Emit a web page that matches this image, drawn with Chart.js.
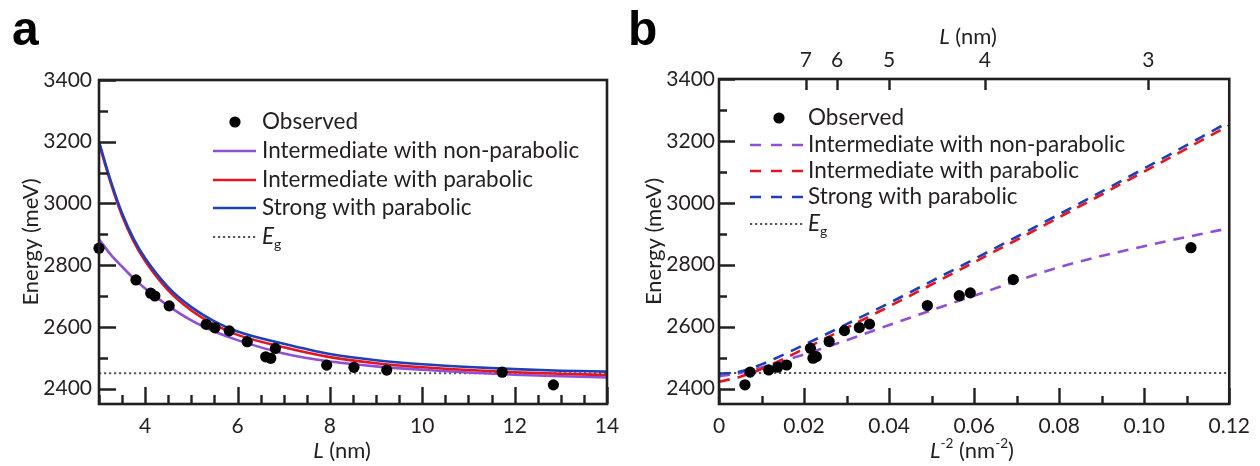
<!DOCTYPE html>
<html><head><meta charset="utf-8">
<script src="https://cdn.jsdelivr.net/npm/chart.js@4.4.0/dist/chart.umd.min.js"></script>
<style>
html,body{margin:0;padding:0;background:#fff;}
#wrap{position:relative;width:1260px;height:466px;overflow:hidden;}
canvas{position:absolute;top:0;}
</style></head><body>
<div id="wrap">
<canvas id="ca" width="630" height="466" style="left:0"></canvas>
<canvas id="cb" width="630" height="466" style="left:630px"></canvas>
</div>
<script>
// ---------------- Panel a data ----------------
const observedL = [3.0, 3.8, 4.12, 4.21, 4.52, 5.32, 5.51, 5.82, 6.21, 6.61, 6.72, 6.82, 7.93, 8.52, 9.23, 11.73, 12.84];
const observedE = [2855, 2752, 2709, 2700, 2668, 2608, 2597, 2587, 2552, 2503, 2498, 2530, 2476, 2469, 2460, 2453, 2412];
const curveL = [3, 3.25, 3.5, 3.75, 4, 4.5, 5, 5.5, 6, 7, 8, 9, 10, 11, 12, 13, 14];
const strongParabolicA   = [3200, 3075, 2968, 2885, 2822, 2728, 2664, 2618, 2585, 2545, 2512, 2492, 2479, 2470, 2463, 2458, 2455];
const interParabolicA    = [3195, 3068, 2960, 2877, 2813, 2718, 2653, 2607, 2574, 2534, 2502, 2482, 2469, 2460, 2453, 2448, 2444];
const interNonParabolicA = [2884, 2835, 2795, 2757, 2724, 2668, 2621, 2585, 2557, 2514, 2488, 2472, 2461, 2452, 2445, 2440, 2436];
const bandGapE = 2450;
const rangeA = [3, 14];
const energyRange = [2350, 3400];
const energyTicks = [2400, 2500, 2600, 2700, 2800, 2900, 3000, 3100, 3200, 3300, 3400];

// ---------------- Panel b data ----------------
const observedInvL2 = [0.111, 0.0692, 0.0591, 0.0565, 0.0490, 0.0354, 0.0330, 0.0295, 0.0259, 0.0229, 0.0221, 0.0215, 0.0159, 0.0138, 0.0117, 0.0073, 0.0061];
const curveInvL2 = [0, 0.005, 0.01, 0.02, 0.03, 0.04, 0.05, 0.06, 0.08, 0.10, 0.12];
const strongParabolicB   = [2447, 2455, 2478, 2541, 2608, 2676, 2747, 2818, 2963, 3111, 3262];
const interParabolicB    = [2422, 2438, 2463, 2528, 2596, 2665, 2736, 2808, 2953, 3101, 3250];
const interNonParabolicB = [2440, 2450, 2468, 2510, 2556, 2605, 2653, 2700, 2792, 2860, 2918];
const rangeB = [0, 0.12];
const topTickLabels = ['7', '6', '5', '4', '3'];
const topTickPositions = [0.0204, 0.0278, 0.0400, 0.0625, 0.1010];

const seriesLabels = ['Observed', 'Intermediate with non-parabolic', 'Intermediate with parabolic', 'Strong with parabolic', 'Eg'];

// ---------------- styles ----------------
const INK = '#231f20';
const PURPLE = '#8f4fd8';
const RED = '#e6141e';
const BLUE = '#1f3eb8';
const EGC = '#555555';
const FONT = 'Lato';
Chart.defaults.font.family = FONT;
Chart.defaults.color = INK;

function pts(xs, ys) { return xs.map((x, i) => ({x: x, y: ys[i]})); }
function isMult(v, step) { const r = v / step; return Math.abs(r - Math.round(r)) < 1e-6; }

function richText(ctx, parts, x, y, size, align, rotate) {
  ctx.save();
  ctx.translate(x, y);
  if (rotate) ctx.rotate(rotate);
  let w = 0;
  const segs = parts.map(p => {
    const fs = (p.sup || p.sub) ? size * 0.62 : size;
    const font = (p.italic ? 'italic ' : '') + fs + 'px ' + FONT;
    ctx.font = font;
    const m = ctx.measureText(p.t).width;
    w += m;
    return {p: p, font: font, m: m};
  });
  let cx = align === 'center' ? -w / 2 : (align === 'right' ? -w : 0);
  ctx.textBaseline = 'middle';
  ctx.textAlign = 'left';
  ctx.fillStyle = INK;
  for (const s of segs) {
    ctx.font = s.font;
    let dy = 0;
    if (s.p.sup) dy = -size * 0.33;
    if (s.p.sub) dy = size * 0.32;
    ctx.fillText(s.p.t, cx, dy);
    cx += s.m;
  }
  ctx.restore();
}

const decor = {
  id: 'decor',
  afterDraw(chart, args, o) {
    const ctx = chart.ctx, a = chart.chartArea;
    const xs = chart.scales.x, ys = chart.scales.y;
    ctx.save();
    ctx.strokeStyle = INK;
    ctx.lineCap = 'butt';
    ctx.lineWidth = 2.4;
    ctx.beginPath();
    xs.ticks.forEach(t => {
      const v = t.value;
      if (!isMult(v, o.xMinor)) return;
      const len = isMult(v, o.xMajor) ? o.majorLen : o.minorLen;
      const px = Math.round(xs.getPixelForValue(v)) + 0.5;
      ctx.moveTo(px, a.bottom); ctx.lineTo(px, a.bottom - len);
    });
    ys.ticks.forEach(t => {
      const v = t.value;
      if (!isMult(v, o.yMinor)) return;
      const len = isMult(v, o.yMajor) ? o.majorLen : o.minorLen;
      const py = Math.round(ys.getPixelForValue(v)) + 0.5;
      ctx.moveTo(a.left, py); ctx.lineTo(a.left + len, py);
    });
    if (chart.scales.x2) {
      const s2 = chart.scales.x2;
      s2.ticks.forEach(t => {
        const px = Math.round(s2.getPixelForValue(t.value)) + 0.5;
        ctx.moveTo(px, a.top); ctx.lineTo(px, a.top + o.topLen);
      });
    }
    ctx.stroke();
    // frame
    ctx.lineWidth = o.frameWidth;
    ctx.strokeRect(a.left, a.top, a.right - a.left, a.bottom - a.top);

    // axis titles
    richText(ctx, [{t: 'Energy (meV)'}], o.yTitleX, (a.top + a.bottom) / 2, o.titleSize, 'center', -Math.PI / 2);
    richText(ctx, o.xTitle, o.xTitleX, o.xTitleY, o.titleSize, 'center');
    if (o.topTitle) richText(ctx, o.topTitle, o.topTitleX, o.topTitleY, o.titleSize, 'center');

    // panel letter
    ctx.fillStyle = '#000';
    ctx.font = 'bold ' + o.letterSize + 'px "Liberation Sans"';
    ctx.textAlign = 'left';
    ctx.textBaseline = 'alphabetic';
    ctx.fillText(o.letter, o.letterX, o.letterY);

    // legend
    const L = o.legend;
    chart.data.datasets.forEach((ds, i) => {
      const row = L.rows[i];
      if (row === undefined) return;
      ctx.save();
      if (ds.showLine === false) {
        ctx.fillStyle = ds.backgroundColor;
        ctx.beginPath(); ctx.arc(L.dotX, row, ds.pointRadius, 0, Math.PI * 2); ctx.fill();
      } else {
        ctx.strokeStyle = ds.borderColor;
        ctx.lineWidth = ds.borderWidth;
        ctx.setLineDash(ds.legendDash || ds.borderDash || []);
        ctx.beginPath(); ctx.moveTo(L.x0, row); ctx.lineTo(L.x1, row); ctx.stroke();
      }
      ctx.restore();
      if (ds.label === 'Eg') {
        richText(ctx, [{t: 'E', italic: true}, {t: 'g', sub: true}], L.textX, row, L.size, 'left');
      } else {
        richText(ctx, [{t: ds.label}], L.textX, row, L.size, 'left');
      }
    });
    ctx.restore();
  }
};

function baseScales(range, step, labelFn, yPad, yWidth, xHeight) {
  return {
    x: {
      type: 'linear', min: range[0], max: range[1],
      grid: {display: false, drawTicks: false}, border: {display: false},
      ticks: {stepSize: step, autoSkip: false, maxRotation: 0, padding: 10, font: {size: 21}, color: INK, callback: labelFn},
      afterFit: s => { s.height = xHeight; }
    },
    y: {
      type: 'linear', min: energyRange[0], max: energyRange[1],
      grid: {display: false, drawTicks: false}, border: {display: false},
      ticks: {autoSkip: false, padding: yPad, font: {size: 21}, color: INK,
        callback: v => isMult(v, 200) ? String(v) : ''},
      afterBuildTicks: s => { s.ticks = energyTicks.map(v => ({value: v})); },
      afterFit: s => { s.width = yWidth; }
    }
  };
}

function lineDs(label, data, color, dash, ord) {
  return {label: label, data: data, showLine: true, borderColor: color, backgroundColor: color,
    borderWidth: 2.6, borderDash: dash, pointRadius: 0, cubicInterpolationMode: 'monotone', order: ord};
}

// ---------------- Chart a ----------------
const scalesA = baseScales(rangeA, 0.5, v => (isMult(v, 2) ? String(Math.round(v)) : ''), 7, 99, 62);
new Chart(document.getElementById('ca'), {
  type: 'scatter',
  data: {
    datasets: [
      {label: seriesLabels[0], data: pts(observedL, observedE), showLine: false, pointRadius: 5.6, pointHoverRadius: 5.6,
        backgroundColor: '#000', borderWidth: 0, order: 0, clip: false},
      lineDs(seriesLabels[1], pts(curveL, interNonParabolicA), PURPLE, [], 3),
      lineDs(seriesLabels[2], pts(curveL, interParabolicA), RED, [], 2),
      lineDs(seriesLabels[3], pts(curveL, strongParabolicA), BLUE, [], 1),
      Object.assign(lineDs(seriesLabels[4], pts(rangeA, [bandGapE, bandGapE]), EGC, [2.2, 2.8], 4), {borderWidth: 2, cubicInterpolationMode: 'default'})
    ]
  },
  options: {
    responsive: false, animation: false, devicePixelRatio: 1,
    layout: {padding: {top: 80, right: 23, left: 0, bottom: 0}},
    plugins: {
      legend: {display: false}, tooltip: {enabled: false},
      decor: {
        xMinor: 0.5, xMajor: 2, yMinor: 100, yMajor: 200, majorLen: 17, minorLen: 9, frameWidth: 2.6,
        titleSize: 22, yTitleX: 31, xTitle: [{t: 'L', italic: true}, {t: ' (nm)'}], xTitleX: 342, xTitleY: 451,
        letter: 'a', letterX: 12, letterY: 45, letterSize: 48,
        legend: {x0: 213, x1: 256, dotX: 235, textX: 262, size: 22.5, rows: [122, 151, 180, 208, 237]}
      }
    },
    scales: scalesA
  },
  plugins: [decor]
});

// ---------------- Chart b ----------------
const scalesB = baseScales(rangeB, 0.01, v => (isMult(v, 0.02) ? (Math.abs(v) < 1e-9 ? '0' : v.toFixed(2)) : ''), 4, 89, 62);
scalesB.x2 = {
  type: 'linear', position: 'top', min: rangeB[0], max: rangeB[1],
  grid: {display: false, drawTicks: false}, border: {display: false},
  ticks: {autoSkip: false, maxRotation: 0, padding: 6, font: {size: 21}, color: INK,
    callback: (v, i) => topTickLabels[i]},
  afterBuildTicks: s => { s.ticks = topTickPositions.map(v => ({value: v})); },
  afterFit: s => { s.height = 79; }
};
new Chart(document.getElementById('cb'), {
  type: 'scatter',
  data: {
    datasets: [
      {label: seriesLabels[0], data: pts(observedInvL2, observedE), showLine: false, pointRadius: 5.6, pointHoverRadius: 5.6,
        backgroundColor: '#000', borderWidth: 0, order: 0, clip: false},
      Object.assign(lineDs(seriesLabels[1], pts(curveInvL2, interNonParabolicB), PURPLE, [11, 8], 3), {legendDash: [11, 10]}),
      Object.assign(lineDs(seriesLabels[2], pts(curveInvL2, interParabolicB), RED, [11, 8], 2), {legendDash: [11, 10]}),
      Object.assign(lineDs(seriesLabels[3], pts(curveInvL2, strongParabolicB), BLUE, [11, 8], 1), {legendDash: [11, 10]}),
      Object.assign(lineDs(seriesLabels[4], pts(rangeB, [bandGapE, bandGapE]), EGC, [2.2, 2.8], 4), {borderWidth: 2, cubicInterpolationMode: 'default'})
    ]
  },
  options: {
    responsive: false, animation: false, devicePixelRatio: 1,
    layout: {padding: {top: 0, right: 28, left: 0, bottom: 0}},
    plugins: {
      legend: {display: false}, tooltip: {enabled: false},
      decor: {
        xMinor: 0.01, xMajor: 0.02, yMinor: 100, yMajor: 200, majorLen: 16, minorLen: 8, topLen: 11, frameWidth: 2.6,
        titleSize: 22, yTitleX: 24,
        xTitle: [{t: 'L', italic: true}, {t: '-2', sup: true}, {t: ' (nm'}, {t: '-2', sup: true}, {t: ')'}], xTitleX: 342, xTitleY: 451,
        topTitle: [{t: 'L', italic: true}, {t: ' (nm)'}], topTitleX: 338, topTitleY: 37,
        letter: 'b', letterX: -2, letterY: 45, letterSize: 48,
        legend: {x0: 120, x1: 173, dotX: 149, textX: 178, size: 22.5, rows: [118, 145, 171, 197, 224]}
      }
    },
    scales: scalesB
  },
  plugins: [decor]
});
</script>
</body></html>
